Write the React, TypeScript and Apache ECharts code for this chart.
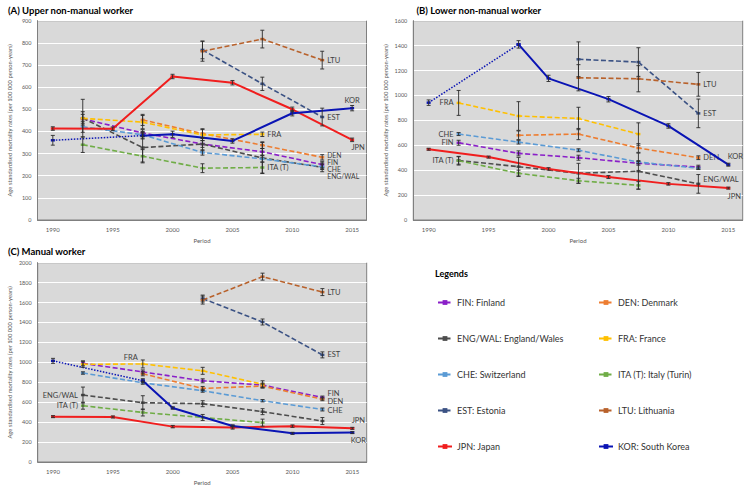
import React, { useEffect, useRef } from "react";
import * as echarts from "echarts";

const FONT = "Lato, 'Liberation Sans', sans-serif";

// ---------- periods / ticks ----------
const xTickValues = [1990, 1995, 2000, 2005, 2010, 2015];
const midPeriods = [1992.5, 1997.5, 2002.5, 2007.5, 2012.5];
const fullPeriods = [1990, 1995, 2000, 2005, 2010, 2015];
const latePeriods = [2002.5, 2007.5, 2012.5];
const fraItaPeriods = [1992.5, 1997.5, 2002.5, 2007.5];
const denPeriods = [1997.5, 2002.5, 2007.5, 2012.5];
const korPeriods = [1990, 1997.5, 2000, 2005, 2010, 2015];

// ---------- countries ----------
const codes = ["FIN", "DEN", "ENG/WAL", "FRA", "CHE", "ITA (T)", "EST", "LTU", "JPN", "KOR"];
const names = [
  "FIN: Finland",
  "DEN: Denmark",
  "ENG/WAL: England/Wales",
  "FRA: France",
  "CHE: Switzerland",
  "ITA (T): Italy (Turin)",
  "EST: Estonia",
  "LTU: Lithuania",
  "JPN: Japan",
  "KOR: South Korea",
];
const colors = ["#8A1FC8", "#ED7D31", "#4D4D4D", "#FFC000", "#5B9BD5", "#70AD47", "#3B5284", "#B8612B", "#F01E1E", "#0A14B4"];
const periodsByCountry = [midPeriods, denPeriods, midPeriods, fraItaPeriods, midPeriods, fraItaPeriods, latePeriods, latePeriods, fullPeriods, korPeriods];

// ---------- (A) Upper non-manual ----------
const A_FIN = [457, 393, 343, 308, 250];
const A_DEN = [452, 390, 338, 283];
const A_ENG = [460, 327, 343, 280, 238];
const A_FRA = [459, 442, 384, 387];
const A_CHE = [421, 385, 305, 276, 240];
const A_ITA = [340, 288, 234, 237];
const A_EST = [768, 615, 465];
const A_LTU = [762, 817, 722];
const A_JPN = [413, 412, 648, 620, 500, 362];
const A_KOR = [360, 381, 387, 357, 482, 505];
const A_err = [
  [20, 15, 15, 15, 15],
  [25, 22, 15, 12],
  [85, 65, 30, 70, 20],
  [30, 30, 25, 10],
  [25, 15, 12, 15, 12],
  [35, 30, 20, 25],
  [40, 30, 40],
  [45, 40, 40],
  [8, 8, 10, 10, 10, 8],
  [22, 15, 14, 10, 12, 12],
];

// ---------- (B) Lower non-manual ----------
const B_FIN = [620, 535, 500, 455, 425];
const B_DEN = [680, 690, 578, 500];
const B_ENG = [478, 428, 375, 392, 290];
const B_FRA = [940, 835, 815, 690];
const B_CHE = [690, 625, 560, 465, 415];
const B_ITA = [476, 375, 315, 278];
const B_EST = [1290, 1268, 856];
const B_LTU = [1142, 1134, 1089];
const B_JPN = [568, 505, 410, 345, 290, 256];
const B_KOR = [942, 1410, 1137, 970, 755, 444];
const B_err = [
  [20, 20, 20, 15, 15],
  [35, 45, 35, 15],
  [30, 75, 80, 145, 75],
  [100, 115, 90, 90],
  [12, 15, 12, 12, 10],
  [35, 25, 20, 30],
  [140, 115, 115],
  [105, 105, 95],
  [8, 8, 10, 12, 10, 8],
  [22, 30, 25, 22, 18, 12],
];

// ---------- (C) Manual ----------
const C_FIN = [990, 904, 815, 772, 647];
const C_DEN = [885, 738, 762, 630];
const C_ENG = [672, 595, 585, 505, 411];
const C_FRA = [980, 984, 915, 780];
const C_CHE = [893, 795, 715, 615, 527];
const C_ITA = [565, 497, 447, 395];
const C_EST = [1640, 1405, 1075];
const C_LTU = [1625, 1860, 1705];
const C_JPN = [455, 452, 355, 345, 360, 338];
const C_KOR = [1015, 816, 542, 362, 288, 295];
const C_err = [
  [25, 20, 20, 20, 15],
  [20, 20, 20, 15],
  [80, 70, 30, 30, 35],
  [30, 40, 35, 35],
  [12, 15, 15, 12, 15],
  [35, 35, 30, 35],
  [35, 30, 30],
  [40, 35, 35],
  [10, 10, 12, 15, 12, 10],
  [25, 20, 12, 10, 10, 10],
];

const panelValues = [
  [A_FIN, A_DEN, A_ENG, A_FRA, A_CHE, A_ITA, A_EST, A_LTU, A_JPN, A_KOR],
  [B_FIN, B_DEN, B_ENG, B_FRA, B_CHE, B_ITA, B_EST, B_LTU, B_JPN, B_KOR],
  [C_FIN, C_DEN, C_ENG, C_FRA, C_CHE, C_ITA, C_EST, C_LTU, C_JPN, C_KOR],
];
const panelErrors = [A_err, B_err, C_err];
const panelTitles = ["(A) Upper non-manual worker", "(B) Lower non-manual worker", "(C) Manual worker"];
const yMax = [900, 1600, 2000];
const yStep = [100, 200, 200];

// ---------- styling of labels (positions only) ----------
type LabelCfg = { at: number; pos: string; offset?: number[]; size?: number };
const panelLabels: Record<string, LabelCfg>[] = [
  {
    LTU: { at: -1, pos: "right" },
    EST: { at: -1, pos: "right" },
    KOR: { at: -1, pos: "top" },
    JPN: { at: -1, pos: "bottom", offset: [6, 0] },
    FRA: { at: -1, pos: "right" },
    "ITA (T)": { at: -1, pos: "right" },
    DEN: { at: -1, pos: "right", offset: [0, -2], size: 6.8 },
    FIN: { at: -1, pos: "right", offset: [0, -2.5], size: 6.8 },
    CHE: { at: -1, pos: "right", offset: [0, 2], size: 6.8 },
    "ENG/WAL": { at: -1, pos: "right", offset: [0, 9], size: 6.8 },
  },
  {
    LTU: { at: -1, pos: "right" },
    EST: { at: -1, pos: "right" },
    KOR: { at: -1, pos: "top", offset: [7, 0] },
    JPN: { at: -1, pos: "bottom", offset: [6, 0] },
    DEN: { at: -1, pos: "right" },
    "ENG/WAL": { at: -1, pos: "right", offset: [0, -4] },
    FRA: { at: 0, pos: "left" },
    CHE: { at: 0, pos: "left" },
    FIN: { at: 0, pos: "left" },
    "ITA (T)": { at: 0, pos: "left" },
  },
  {
    LTU: { at: -1, pos: "right" },
    EST: { at: -1, pos: "right" },
    FRA: { at: 1, pos: "left", offset: [0, -6] },
    FIN: { at: -1, pos: "right", offset: [0, -4] },
    DEN: { at: -1, pos: "right", offset: [0, 2.5] },
    CHE: { at: -1, pos: "right", offset: [0, 1] },
    JPN: { at: -1, pos: "top", offset: [6, 0] },
    KOR: { at: -1, pos: "bottom", offset: [6, 0] },
    "ENG/WAL": { at: 0, pos: "left" },
    "ITA (T)": { at: 0, pos: "left" },
  },
];

const grids = [
  { left: 37.5, top: 20.7, width: 329, height: 199.3 },
  { left: 413.3, top: 20.7, width: 329.4, height: 199.3 },
  { left: 37.7, top: 262.7, width: 329, height: 199.3 },
];

const legendCol1 = [names[0], names[2], names[4], names[6], names[8]];
const legendCol2 = [names[1], names[3], names[5], names[7], names[9]];

function errorRender(params: any, api: any) {
  const x = api.value(0);
  const lo = api.value(1);
  const hi = api.value(2);
  const p1 = api.coord([x, hi]);
  const p2 = api.coord([x, lo]);
  const w = 2;
  const st = { stroke: "#2b2b2b", lineWidth: 0.9 };
  return {
    type: "group",
    children: [
      { type: "line", shape: { x1: p1[0], y1: p1[1], x2: p2[0], y2: p2[1] }, style: st },
      { type: "line", shape: { x1: p1[0] - w, y1: p1[1], x2: p1[0] + w, y2: p1[1] }, style: st },
      { type: "line", shape: { x1: p2[0] - w, y1: p2[1], x2: p2[0] + w, y2: p2[1] }, style: st },
    ],
  };
}

function buildOption() {
  const series: any[] = [];
  for (let g = 0; g < 3; g++) {
    const errData: number[][] = [];
    for (let c = 0; c < codes.length; c++) {
      const xs = periodsByCountry[c];
      const ys = panelValues[g][c];
      const errs = panelErrors[g][c];
      const code = codes[c];
      const color = colors[c];
      const solid = code === "JPN" || code === "KOR";
      const cfg = panelLabels[g][code];
      const startIdx = code === "KOR" ? 1 : 0;
      const data = xs.map((x, i) => {
        const item: any = { value: [x, ys[i]] };
        if (cfg) {
          const at = cfg.at < 0 ? xs.length + cfg.at : cfg.at;
          if (at === i) {
            item.label = {
              show: true,
              formatter: code,
              position: cfg.pos,
              distance: 3,
              offset: cfg.offset || [0, 0],
              fontSize: cfg.size || 7.5,
              lineHeight: cfg.size || 7.5,
              color: "#404040",
              fontFamily: FONT,
            };
          }
        }
        return item;
      });
      series.push({
        type: "line",
        name: names[c],
        xAxisIndex: g,
        yAxisIndex: g,
        data: data.slice(startIdx),
        symbol: "rect",
        symbolSize: [4, 2.5],
        itemStyle: { color },
        lineStyle: { color, width: solid ? 2 : 1.6, type: solid ? "solid" : [5, 2.5] },
        label: { show: false },
        emphasis: { disabled: true },
        z: solid ? 3 : 2,
      });
      if (code === "KOR") {
        series.push({
          type: "line",
          name: "KOR (dotted)",
          xAxisIndex: g,
          yAxisIndex: g,
          data: data.slice(0, 2).map((d: any) => ({ value: d.value })),
          symbol: "rect",
          symbolSize: [4, 2.5],
          itemStyle: { color },
          lineStyle: { color, width: 1.5, type: [1.5, 1.5] },
          emphasis: { disabled: true },
          z: 3,
        });
      }
      xs.forEach((x, i) => errData.push([x, ys[i] - errs[i], ys[i] + errs[i]]));
    }
    series.push({
      type: "custom",
      name: "err" + g,
      xAxisIndex: g,
      yAxisIndex: g,
      data: errData,
      renderItem: errorRender,
      encode: { x: 0, y: [1, 2] },
      silent: true,
      z: 4,
    });
  }

  const legendBase = {
    orient: "vertical",
    top: 298,
    itemWidth: 14,
    itemHeight: 6,
    itemGap: 27,
    padding: 0,
    selectedMode: false,
    textStyle: { fontSize: 9, color: "#333", fontFamily: FONT },
  };

  return {
    animation: false,
    backgroundColor: "#ffffff",
    title: [
      ...panelTitles.map((t, i) => ({
        text: t,
        left: i === 1 ? 416.5 : 8,
        top: i === 2 ? 246.5 : 5.5,
        padding: 0,
        textStyle: { fontSize: 9.5, fontWeight: "bold", color: "#000", fontFamily: FONT },
      })),
      {
        text: "Legends",
        left: 435,
        top: 269,
        padding: 0,
        textStyle: { fontSize: 9, fontWeight: "bold", color: "#000", fontFamily: FONT },
      },
    ],
    legend: [
      { ...legendBase, left: 437, data: legendCol1 },
      { ...legendBase, left: 598, data: legendCol2 },
    ],
    grid: grids.map((g) => ({
      ...g,
      show: true,
      backgroundColor: "#D9D9D9",
      borderColor: "#7F7F7F",
      borderWidth: 1,
      containLabel: false,
    })),
    xAxis: grids.map((_, i) => ({
      type: "value",
      gridIndex: i,
      min: 1988.72,
      max: 2016.2,
      name: "Period",
      nameLocation: "middle",
      nameGap: 17,
      nameTextStyle: { fontSize: 6, color: "#595959", fontFamily: FONT },
      axisLine: { show: true, lineStyle: { color: "#7F7F7F" } },
      axisTick: { show: false },
      splitLine: { show: false },
      axisLabel: {
        customValues: xTickValues,
        fontSize: 6,
        color: "#595959",
        margin: 6,
        fontFamily: FONT,
        formatter: (v: number) => String(v),
      },
    })),
    yAxis: grids.map((_, i) => ({
      type: "value",
      gridIndex: i,
      min: 0,
      max: yMax[i],
      interval: yStep[i],
      name: "Age standardised mortality rates (per 100 000 person-years)",
      nameLocation: "middle",
      nameRotate: 90,
      nameGap: 25,
      nameTextStyle: { fontSize: 5.8, color: "#595959", fontFamily: FONT },
      axisLine: { show: true, lineStyle: { color: "#7F7F7F" } },
      axisTick: { show: false },
      splitLine: { show: true, lineStyle: { color: "#FFFFFF", width: 1 } },
      axisLabel: {
        fontSize: 5.5,
        color: "#595959",
        margin: 6,
        fontFamily: FONT,
        formatter: (v: number) => String(v),
      },
    })),
    series,
  };
}

export default function App() {
  const ref = useRef<HTMLDivElement>(null);
  useEffect(() => {
    if (!ref.current) return;
    const chart = echarts.init(ref.current, null, { renderer: "svg" });
    chart.setOption(buildOption() as any);
    return () => chart.dispose();
  }, []);
  return (
    <div
      ref={ref}
      style={{ position: "fixed", left: 0, top: 0, width: 749, height: 487, background: "#fff" }}
    />
  );
}
